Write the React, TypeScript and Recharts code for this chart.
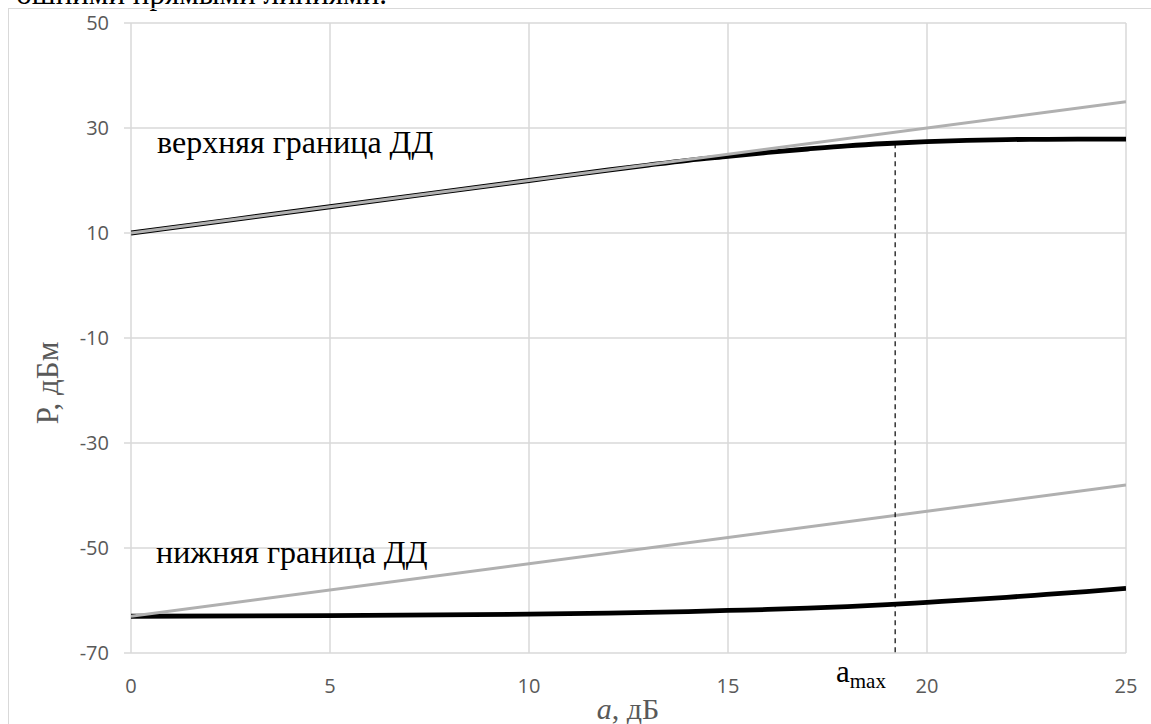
import React from 'react';
import { LineChart, Line, XAxis, YAxis, CartesianGrid, ReferenceLine } from 'recharts';

// upper bound of the dynamic range (black) and its linear asymptote (gray)
const upperX = [0, 5, 10, 12, 13, 14, 15, 16, 17, 18, 19, 20, 21, 22, 23, 24, 25];
const upperBlack = [10, 15, 20, 22, 22.95, 23.85, 24.6, 25.35, 26.0, 26.6, 27.05, 27.4, 27.65, 27.8, 27.85, 27.9, 27.9];

// lower bound
const lowerX = [0, 5, 10, 12, 14, 15, 16, 17, 18, 19, 20, 21, 22, 23, 24, 25];
const lowerBlack = [-63, -62.9, -62.6, -62.4, -62.1, -61.9, -61.7, -61.45, -61.15, -60.8, -60.35, -59.9, -59.4, -58.85, -58.3, -57.7];

const grayX = [0, 25];
const upperGray = [10, 35];
const lowerGray = [-63, -38];

const xTicks = [0, 5, 10, 15, 20, 25];
const yTicks = [-70, -50, -30, -10, 10, 30, 50];

const aMax = 19.2;
const aMaxP = 27.1;

const toPoints = (xs: number[], ys: number[]) => xs.map((x, i) => ({ x, y: ys[i] }));

const GRID = '#d9d9d9';
const TEXT = '#595959';
const GRAY = '#b0b0b0';

const tickStyle = { fontFamily: '"Open Sans", sans-serif', fontSize: 20, fill: TEXT };
const serif = '"Liberation Serif", "Times New Roman", serif';

export default function App() {
  return (
    <div style={{ position: 'fixed', left: 0, top: 0, width: 1151, height: 724, overflow: 'hidden', background: '#fff' }}>
      {/* tail of the paragraph above the figure, cut off by the crop */}
      <div style={{ position: 'absolute', right: 764, top: -22, fontFamily: serif, fontSize: 31, color: '#000', whiteSpace: 'nowrap', lineHeight: 1 }}>
        ошними прямыми линиями.
      </div>
      <div style={{ position: 'absolute', left: 8, top: 8, width: 1160, height: 730, borderTop: `1.5px solid ${GRID}`, borderLeft: `1.5px solid ${GRID}` }} />

      <div style={{ position: 'absolute', left: 0, top: 0 }}>
        <LineChart width={1151} height={724} margin={{ top: 23, right: 25, bottom: 41, left: 71 }}>
          <CartesianGrid stroke={GRID} strokeWidth={1.5} />
          <XAxis
            type="number"
            dataKey="x"
            domain={[0, 25]}
            ticks={xTicks}
            height={30}
            axisLine={false}
            tickLine={false}
            tickMargin={20}
            tick={tickStyle}
            allowDataOverflow
          />
          <YAxis
            type="number"
            dataKey="y"
            domain={[-70, 50]}
            ticks={yTicks}
            width={60}
            axisLine={false}
            tickLine={{ stroke: GRID, strokeWidth: 1.5 }}
            tickSize={7}
            tickMargin={15}
            tick={tickStyle}
            allowDataOverflow
          />
          <Line data={toPoints(upperX, upperBlack)} dataKey="y" type="monotone" stroke="#000" strokeWidth={4.8} dot={false} isAnimationActive={false} />
          <Line data={toPoints(lowerX, lowerBlack)} dataKey="y" type="monotone" stroke="#000" strokeWidth={4.8} dot={false} isAnimationActive={false} />
          <Line data={toPoints(grayX, upperGray)} dataKey="y" type="linear" stroke={GRAY} strokeWidth={3} dot={false} isAnimationActive={false} />
          <Line data={toPoints(grayX, lowerGray)} dataKey="y" type="linear" stroke={GRAY} strokeWidth={3} dot={false} isAnimationActive={false} />
          <ReferenceLine
            segment={[{ x: aMax, y: aMaxP }, { x: aMax, y: -70 }]}
            stroke="#000"
            strokeWidth={1.2}
            strokeDasharray="5 4"
          />
        </LineChart>
      </div>

      <div style={{ position: 'absolute', left: 157, top: 126, fontFamily: serif, fontSize: 32, color: '#000', whiteSpace: 'nowrap', lineHeight: 1 }}>
        верхняя граница ДД
      </div>
      <div style={{ position: 'absolute', left: 156, top: 536, fontFamily: serif, fontSize: 32, color: '#000', whiteSpace: 'nowrap', lineHeight: 1 }}>
        нижняя граница ДД
      </div>
      <div style={{ position: 'absolute', left: 836, top: 656, fontFamily: serif, fontSize: 31, color: '#000', whiteSpace: 'nowrap', lineHeight: 1 }}>
        a<sub style={{ fontSize: 21, verticalAlign: -6 }}>max</sub>
      </div>
      <div style={{ position: 'absolute', left: 558, width: 140, top: 694, textAlign: 'center', fontFamily: serif, fontSize: 30, color: TEXT, whiteSpace: 'nowrap', lineHeight: 1 }}>
        <i>a</i>, дБ
      </div>
      <div
        style={{
          position: 'absolute',
          left: 47,
          top: 383,
          transform: 'translate(-50%, -50%) rotate(-90deg)',
          fontFamily: serif,
          fontSize: 31,
          color: TEXT,
          whiteSpace: 'nowrap',
          lineHeight: 1,
        }}
      >
        P, дБм
      </div>
    </div>
  );
}
